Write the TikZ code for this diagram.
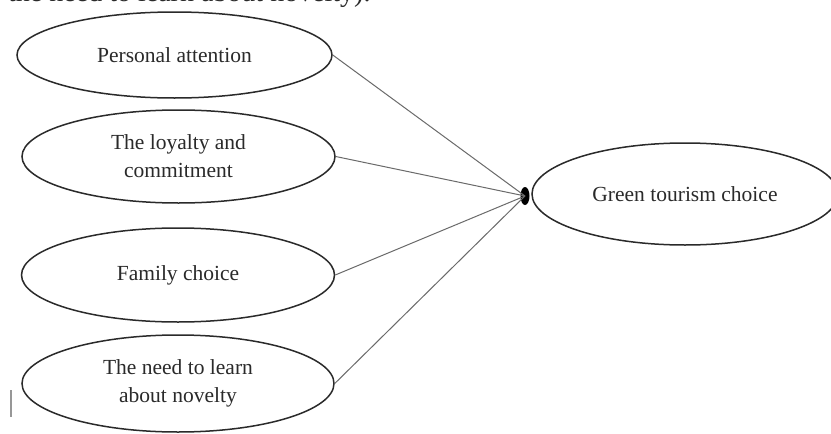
\documentclass[tikz,border=0pt]{standalone}
\usepackage{fontspec}
\setmainfont{Liberation Serif}
\usetikzlibrary{shapes.geometric}
\definecolor{ink}{HTML}{2A2A2A}
\definecolor{wire}{HTML}{6A6A6A}
\tikzset{
  factor/.style={draw=ink, line width=1.5pt, ellipse, inner sep=0pt, align=center,
    text=ink, font=\fontsize{21.5}{28}\selectfont},
  wireline/.style={draw=wire, line width=1pt},
  junction/.style={ellipse, fill=black, draw=none, minimum width=9pt, minimum height=18pt, inner sep=0pt}
}
\begin{document}
\begin{tikzpicture}[x=1pt,y=-1pt]
\useasboundingbox (0,0) rectangle (831,434);
\fill[white] (0,0) rectangle (831,434);
\node[anchor=base west, inner sep=0pt, text=ink, font=\fontsize{28}{32}\selectfont] (head) at (8,1) {the need to learn about novelty).};
\node[factor, minimum width=315pt, minimum height=86pt] (e1) at (174.5,55) {Personal attention};
\node[factor, minimum width=313pt, minimum height=93pt] (e2) at (178.5,156.5) {The loyalty and\\commitment};
\node[factor, minimum width=313pt, minimum height=94pt] (e3) at (178,275) {Family choice};
\node[factor, minimum width=312pt, minimum height=97pt] (e4) at (178,383.5) {The need to learn\\about novelty};
\node[factor, minimum width=306pt, minimum height=102pt] (g) at (685,194) {Green tourism choice};
\node[junction] (dot) at (525,196) {};
\draw[wireline] (e1.east) -- (dot.center);
\draw[wireline] (e2.east) -- (dot.center);
\draw[wireline] (e3.east) -- (dot.center);
\draw[wireline] (e4.east) -- (dot.center);
\coordinate (bartop) at (11,390);
\coordinate (barbot) at (11,417);
\draw[draw=wire!70, line width=1.5pt] (bartop) -- (barbot);
\end{tikzpicture}
\end{document}
